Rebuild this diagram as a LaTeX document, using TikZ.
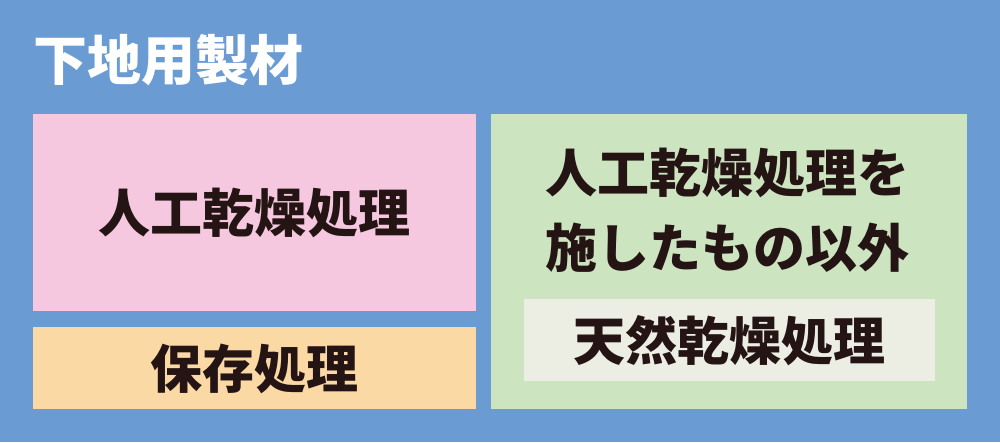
\documentclass[tikz,border=0pt]{standalone}
\usepackage{fontspec}
\newfontfamily\jpfont{Noto Sans CJK JP}
\definecolor{bgblue}{HTML}{6A9BD3}
\definecolor{boxpink}{HTML}{F6C8DF}
\definecolor{boxorange}{HTML}{FBD9A5}
\definecolor{boxgreen}{HTML}{CDE4C0}
\definecolor{boxlight}{HTML}{ECEEE4}
\definecolor{inkdark}{HTML}{241414}
\tikzset{
  label/.style={font=\jpfont\bfseries\fontsize{52}{75}\selectfont, text=inkdark, inner sep=0pt, align=center},
  title/.style={font=\jpfont\bfseries\fontsize{54}{60}\selectfont, text=white, inner sep=0pt, anchor=west}
}

\begin{document}
\begin{tikzpicture}[x=1pt,y=-1pt]

% background
\fill[bgblue] (0,0) rectangle (1000,442);
\useasboundingbox (0,0) rectangle (1000,442);

% title
\node[title] (title) at (33,60) {下地用製材};

% boxes
\fill[boxpink] (33,114) rectangle (476,311);
\fill[boxorange] (33,327) rectangle (476,409);
\fill[boxgreen] (491,114) rectangle (967,409);
\fill[boxlight] (524,299) rectangle (935,381);

% labels
\node[label] (artificial) at (254.5,213) {人工乾燥処理};
\node[label] (preserve) at (254.5,369) {保存処理};
\node[label] (other) at (727,210) {人工乾燥処理を\\施したもの以外};
\node[label] (natural) at (729.5,341) {天然乾燥処理};

\end{tikzpicture}
\end{document}
